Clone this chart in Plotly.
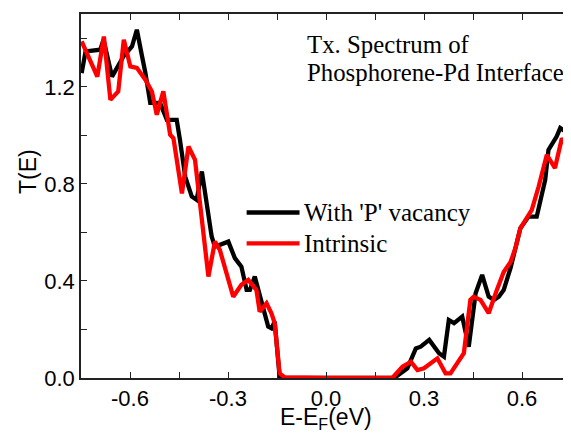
import plotly.graph_objects as go

# Energy (eV) and transmission T(E)
e_vac = [-0.748, -0.736, -0.691, -0.681, -0.655, -0.620, -0.594, -0.579, -0.563, -0.553,
         -0.538, -0.508, -0.487, -0.457, -0.447, -0.431, -0.411, -0.396, -0.380, -0.360,
         -0.350, -0.340, -0.325, -0.299, -0.279, -0.259, -0.243, -0.233, -0.218, -0.198,
         -0.177, -0.167, -0.157, -0.142, -0.126, 0.0, 0.209, 0.249, 0.275, 0.290,
         0.316, 0.346, 0.361, 0.376, 0.392, 0.417, 0.437, 0.458, 0.478, 0.498,
         0.514, 0.529, 0.544, 0.565, 0.580, 0.595, 0.620, 0.645, 0.671, 0.681,
         0.706, 0.717, 0.732, 0.742, 0.75]
t_vac = [1.256, 1.346, 1.353, 1.394, 1.242, 1.325, 1.366, 1.435, 1.325, 1.258,
         1.134, 1.134, 1.064, 1.064, 0.98, 0.830, 0.748, 0.734, 0.851, 0.652,
         0.583, 0.541, 0.548, 0.562, 0.494, 0.459, 0.363, 0.363, 0.418, 0.322,
         0.212, 0.205, 0.232, 0.005, 0.0, 0.0, 0.0, 0.040, 0.122, 0.129,
         0.157, 0.102, 0.088, 0.239, 0.226, 0.253, 0.129, 0.349, 0.425, 0.335,
         0.322, 0.335, 0.363, 0.454, 0.528, 0.617, 0.665, 0.665, 0.816, 0.940,
         0.995, 1.030, 1.016, 1.085, 1.12]

e_int = [-0.748, -0.733, -0.700, -0.680, -0.660, -0.636, -0.619, -0.599, -0.579, -0.553,
         -0.533, -0.518, -0.498, -0.477, -0.467, -0.441, -0.421, -0.401, -0.380, -0.360,
         -0.340, -0.325, -0.284, -0.259, -0.238, -0.213, -0.203, -0.182, -0.167, -0.157,
         -0.142, -0.126, 0.0, 0.203, 0.234, 0.260, 0.280, 0.300, 0.341, 0.366,
         0.381, 0.402, 0.422, 0.442, 0.452, 0.473, 0.498, 0.523, 0.544, 0.565,
         0.580, 0.595, 0.630, 0.651, 0.676, 0.701, 0.722, 0.737, 0.745]
t_int = [1.387, 1.340, 1.242, 1.407, 1.146, 1.181, 1.394, 1.284, 1.278, 1.229,
         1.181, 1.085, 1.181, 1.002, 0.988, 0.761, 0.954, 0.899, 0.665, 0.418,
         0.562, 0.528, 0.335, 0.384, 0.404, 0.363, 0.273, 0.308, 0.267, 0.226,
         0.019, 0.002, 0.0, 0.0, 0.047, 0.067, 0.033, 0.040, 0.081, 0.019,
         0.019, 0.061, 0.102, 0.322, 0.335, 0.322, 0.267, 0.363, 0.437, 0.478,
         0.536, 0.617, 0.693, 0.789, 0.920, 0.865, 0.988, 0.954, 0.995]

series_names = ["With 'P' vacancy", "Intrinsic"]
series_colors = ["#000000", "#ff0000"]

x_tick_vals = [-0.6, -0.3, 0.0, 0.3, 0.6]
x_tick_text = ["-0.6", "-0.3", "0.0", "0.3", "0.6"]
y_tick_vals = [0.0, 0.4, 0.8, 1.2]
y_tick_text = ["0.0", "0.4", "0.8", "1.2"]

SANS = "Arial, Liberation Sans, sans-serif"
SERIF = "Times New Roman, Liberation Serif, serif"

fig = go.Figure()
fig.add_trace(go.Scatter(x=e_vac, y=t_vac, mode="lines", name=series_names[0],
                         line=dict(color=series_colors[0], width=4.3), showlegend=False))
fig.add_trace(go.Scatter(x=e_int, y=t_int, mode="lines", name=series_names[1],
                         line=dict(color=series_colors[1], width=4.3), showlegend=False))

# manual legend
leg_y = [0.682, 0.555]
for name, col, yy in zip(series_names, series_colors, leg_y):
    fig.add_shape(type="line", xref="x", yref="y", x0=-0.243, x1=-0.081, y0=yy, y1=yy,
                  line=dict(color=col, width=4.3))
    fig.add_annotation(x=-0.075, y=yy, xref="x", yref="y", text=name, showarrow=False,
                       xanchor="left", yanchor="middle",
                       font=dict(family=SERIF, size=25, color="#000"))

fig.add_annotation(x=-0.064, y=1.373, xref="x", yref="y", text="Tx. Spectrum of",
                   showarrow=False, xanchor="left", yanchor="middle",
                   font=dict(family=SERIF, size=24.8, color="#000"))
fig.add_annotation(x=-0.064, y=1.258, xref="x", yref="y", text="Phosphorene-Pd Interface",
                   showarrow=False, xanchor="left", yanchor="middle",
                   font=dict(family=SERIF, size=24.8, color="#000"))

# axis titles
fig.add_annotation(x=0.5, y=-0.11, xref="paper", yref="paper",
                   text="E-E<sub>F</sub>(eV)", showarrow=False,
                   xanchor="center", yanchor="middle",
                   font=dict(family=SANS, size=23, color="#000"))
fig.add_annotation(x=-0.108, y=0.566, xref="paper", yref="paper",
                   text="T(E)", showarrow=False, textangle=-90,
                   xanchor="center", yanchor="middle",
                   font=dict(family=SANS, size=23, color="#000"))

# page body has an 8px margin, so the figure is shrunk by that much
fig.update_layout(
    width=563, height=425,
    margin=dict(l=73, r=0, t=6, b=55),
    paper_bgcolor="white", plot_bgcolor="white",
    xaxis=dict(range=[-0.75, 0.75], showgrid=False, zeroline=False, automargin=False,
               showline=True, linecolor="#222", linewidth=1.5, mirror="allticks",
               ticks="inside", ticklen=6, tickwidth=1.2, tickcolor="#222",
               tickvals=x_tick_vals, ticktext=x_tick_text,
               minor=dict(dtick=0.15, tick0=0, ticks="inside", ticklen=6, tickwidth=1.2,
                          tickcolor="#222", showgrid=False),
               tickfont=dict(family=SANS, size=22, color="#000")),
    yaxis=dict(range=[0, 1.5], showgrid=False, zeroline=False, automargin=False,
               showline=True, linecolor="#222", linewidth=1.5,
               ticks="inside", ticklen=6, tickwidth=1.2, tickcolor="#222",
               tickvals=y_tick_vals, ticktext=y_tick_text,
               minor=dict(dtick=0.2, tick0=0, ticks="inside", ticklen=6, tickwidth=1.2,
                          tickcolor="#222", showgrid=False),
               tickfont=dict(family=SANS, size=22, color="#000")),
)

fig.write_html("out.html")
